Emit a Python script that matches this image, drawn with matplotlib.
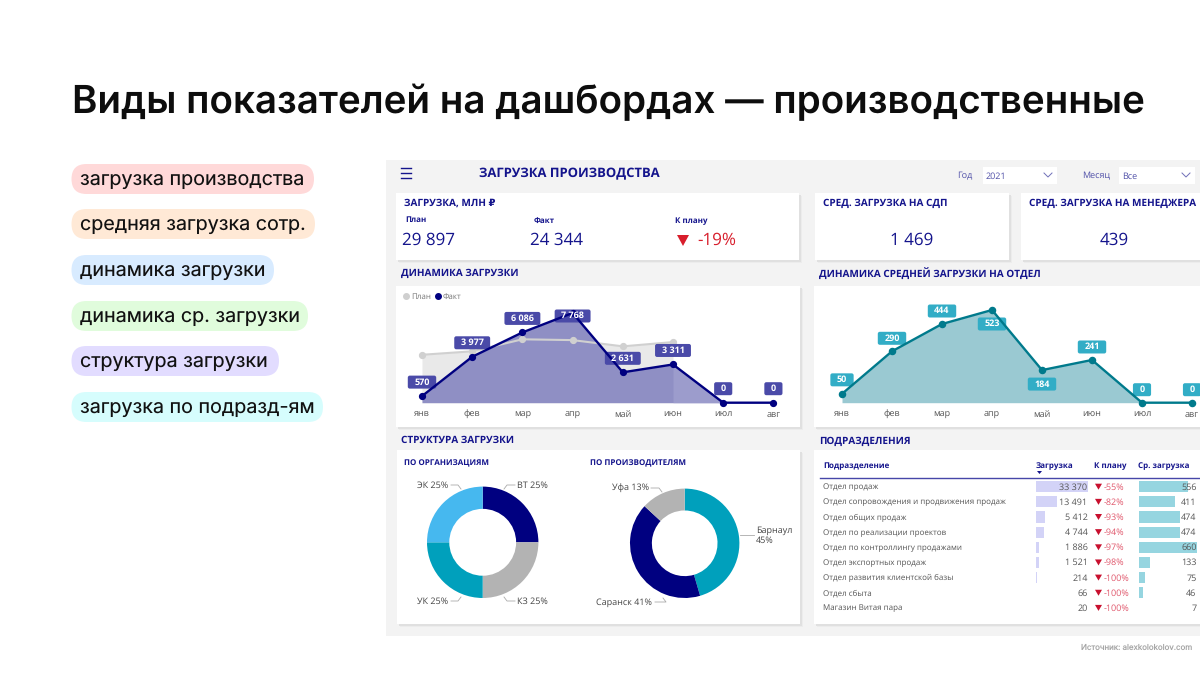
import matplotlib
matplotlib.use("Agg")
import matplotlib.pyplot as plt
from matplotlib.patches import Rectangle, FancyBboxPatch, Polygon

plt.rcParams['text.hinting'] = 'no_hinting'
plt.rcParams['text.hinting_factor'] = 1

W, H = 1200, 675

months = ['янв', 'фев', 'мар', 'апр', 'май', 'июн', 'июл', 'авг']
plan = [4150, 4450, 5490, 5420, 4880, 5250]
fact = [570, 3977, 6086, 7768, 2631, 3311, 0, 0]
fact_labels = ['570', '3 977', '6 086', '7 768', '2 631', '3 311', '0', '0']
avg_load = [50, 290, 444, 523, 184, 241, 0, 0]

org_names = ['ВТ 25%', 'КЗ 25%', 'УК 25%', 'ЭК 25%']
org_values = [25, 25, 25, 25]
org_colors = ['#000080', '#b3b3b3', '#00a0bc', '#46b8ef']
maker_names = ['Барнаул\n45%', 'Саранск 41%', 'Уфа 13%']
maker_values = [45, 41, 13]
maker_colors = ['#00a0bc', '#000080', '#b3b3b3']

departments = ['Отдел продаж', 'Отдел сопровождения и продвижения продаж',
               'Отдел общих продаж', 'Отдел по реализации проектов',
               'Отдел по контроллингу продажами', 'Отдел экспортных продаж',
               'Отдел развития клиентской базы', 'Отдел сбыта', 'Магазин Витая пара']
dep_load = [33370, 13491, 5412, 4744, 1886, 1521, 214, 66, 20]
dep_load_labels = ['33 370', '13 491', '5 412', '4 744', '1 886', '1 521', '214', '66', '20']
dep_plan = ['-55%', '-82%', '-93%', '-94%', '-97%', '-98%', '-100%', '-100%', '-100%']
dep_avg = [556, 411, 474, 474, 660, 133, 75, 46, 7]

pills = ['загрузка производства', 'средняя загрузка сотр.', 'динамика загрузки',
         'динамика ср. загрузки', 'структура загрузки', 'загрузка по подразд-ям']
pill_colors = ['#ffd9d9', '#ffe9d6', '#d8ebff', '#e0fcdc', '#e2dcff', '#d6fdfd']
pill_right = [314, 315, 274, 308, 279, 323]
pill_top = [164, 209, 255, 301, 346, 392]

NAVY = '#000080'
BLUE = '#14148c'
SANS = ['Open Sans', 'DejaVu Sans']
INTER = ['Inter', 'DejaVu Sans']


def px_axes(left, top, right, bottom, z=1):
    ax = fig.add_axes([left / W, 1 - bottom / H, (right - left) / W, (bottom - top) / H], zorder=z)
    ax.patch.set_alpha(0)
    ax.axis('off')
    return ax


def card(left, top, right, bottom):
    for off, col in [(3, '#ececec'), (2, '#e0e0e0')]:
        bg.add_patch(Rectangle((left + off, top + off), right - left, bottom - top, fc=col, ec='none'))
    bg.add_patch(Rectangle((left, top), right - left, bottom - top, fc='white', ec='none'))


def label(text, x, y, size=6.5, color='#444444', weight='normal', ha='left', family=SANS):
    top.text(x, y + 0.6, text, fontsize=size, color=color, fontweight=weight, ha=ha, va='center', family=family)


def area_chart(left, right, x0, step, scale):
    # one month = step px, baseline at 402.7 px
    ax = px_axes(left, 286, right, 425)
    ax.set_xlim((left - x0) / step, (right - x0) / step)
    ax.set_ylim(-(425 - 402.7) * scale, (402.7 - 286) * scale)
    return ax


def value_tag(ax, x, y, text, dy, color):
    # box goes under the line, the number stays on top of it
    txt = ax.annotate(text, (x, y), xytext=(0, dy), textcoords='offset pixels', ha='center', va='center',
                      fontsize=6.4, color='white', fontweight='bold', family=SANS, zorder=6)
    box = txt.get_window_extent(fig.canvas.get_renderer())
    cx, cy = ax.transData.transform((x, y))
    w = box.width + 13
    ax.add_patch(FancyBboxPatch((cx - w / 2 + 2, cy + dy - 4.5), w - 4, 9, boxstyle='round,pad=2,rounding_size=2',
                                fc=color, ec='none', transform=None, zorder=4))


def donut(ax, values, colors, names, pos, ctr, size):
    ax.pie(values, colors=colors, startangle=90, counterclock=False, radius=1,
           wedgeprops=dict(width=0.4, ec='none'), normalize=True)
    ax.set_xlim(-1, 1)
    ax.set_ylim(-1, 1)
    for name, (tx, ty, ha), line in zip(names, pos, ctr):
        label(name, tx, ty, size=size, color='#444444', ha=ha)
        top.plot(line[0], line[1], color='#aaaaaa', lw=0.6)


fig = plt.figure(figsize=(12, 6.75), dpi=100, facecolor='white')
bg = fig.add_axes([0, 0, 1, 1], zorder=0)
bg.set_xlim(0, W)
bg.set_ylim(H, 0)
bg.axis('off')
top = fig.add_axes([0, 0, 1, 1], zorder=5)
top.set_xlim(0, W)
top.set_ylim(H, 0)
top.axis('off')
top.patch.set_alpha(0)

# title and left column
label('Виды показателей на дашбордах — производственные', 72, 101.5, size=27.75, color='#0d0d0d',
      weight='semibold', family=INTER)
for name, col, right, y in zip(pills, pill_colors, pill_right, pill_top):
    bg.add_patch(FancyBboxPatch((71.5 + 15, y + 15), right - 71.5 - 30, 0, boxstyle='round,pad=15,rounding_size=15',
                                fc=col, ec='none'))
    label(name, 80.5, y + 16.5, size=14.2, color='#111111', family=INTER)
label('Источник: alexkolokolov.com', 1192, 647.5, size=5.7, color='#a6a6a6', ha='right', family=INTER)

# dashboard background
bg.add_patch(Rectangle((386, 160), W - 386, 476, fc='#f3f3f3', ec='none'))
card(396, 193, 799, 260)
card(815, 193, 1009, 260)
card(1021, 193, 1210, 260)
card(396, 286, 800, 427)
card(814, 286, 1210, 427)
card(397, 450, 800, 624)
card(814, 450, 1210, 624)

# header
for y in (168, 173, 178):
    top.plot([401, 411], [y, y], color=BLUE, lw=1)
label('ЗАГРУЗКА ПРОИЗВОДСТВА', 479, 173.5, size=9.65, color=BLUE, weight='bold')
label('Год', 957, 175.5, size=6.5, color='#5050a8')
label('Месяц', 1082, 175.5, size=6.5, color='#5050a8')
for left, right, txt in [(983, 1057, '2021'), (1119, 1195, 'Все')]:
    bg.add_patch(Rectangle((left, 167), right - left, 17, fc='white', ec='none'))
    label(txt, left + 3, 175.5, size=6.3, color='#5050a8')
    top.plot([right - 13, right - 9, right - 5], [173, 177, 173], color='#7070b8', lw=0.7)

# KPI cards
label('ЗАГРУЗКА, МЛН ₽', 404, 203, size=7.5, color=BLUE, weight='bold')
label('План', 405, 219, size=6, color=BLUE, weight='bold')
label('Факт', 534, 220, size=6, color=BLUE, weight='bold')
label('К плану', 675, 220, size=6, color=BLUE, weight='bold')
label('29 897', 402, 240, size=12.5, color=BLUE)
label('24 344', 530, 240, size=12.5, color=BLUE)
top.add_patch(Polygon([(677, 235), (689, 235), (683, 246)], fc='#d81e2c', ec='none'))
label('-19%', 697, 240, size=12.5, color='#d81e2c')
label('СРЕД. ЗАГРУЗКА НА СДП', 823, 203, size=7.5, color=BLUE, weight='bold')
label('1 469', 912, 240, size=12.5, color=BLUE, ha='center')
label('СРЕД. ЗАГРУЗКА НА МЕНЕДЖЕРА', 1029, 203, size=7.5, color=BLUE, weight='bold')
label('439', 1114, 240, size=12.5, color=BLUE, ha='center')

# section titles
label('ДИНАМИКА ЗАГРУЗКИ', 401, 273, size=7.5, color=BLUE, weight='bold')
label('ДИНАМИКА СРЕДНЕЙ ЗАГРУЗКИ НА ОТДЕЛ', 819, 273, size=7.5, color=BLUE, weight='bold')
label('СТРУКТУРА ЗАГРУЗКИ', 401, 440, size=7.5, color=BLUE, weight='bold')
label('ПОДРАЗДЕЛЕНИЯ', 819, 440.5, size=7.5, color=BLUE, weight='bold')

# left area chart
ax1 = area_chart(396, 800, 422, 50.2, 7768 / 89.7)
xs = list(range(len(months)))
ax1.fill_between(xs[:6], plan, color='#e9e9e9', lw=0)
ax1.plot(xs[:6], plan, color='#d0d0d0', lw=1.5, marker='o', ms=4.2)
ax1.fill_between(xs, fact, color='#8f8fc4', lw=0)
ax1.fill_between(xs[5:7], fact[5:7], color='#9c9ccc', lw=0)
ax1.plot(xs, fact, color=NAVY, lw=1.7, marker='o', ms=4.2, zorder=5, clip_on=False)
for i, (v, t) in enumerate(zip(fact, fact_labels)):
    value_tag(ax1, i, v, t, -3 if i == 3 else 14, '#4a4aa8')
for i, m in enumerate(months):
    label(m, 422 + i * 50.2, 413.5, size=6.5, color='#555555', ha='center')
top.plot([406], [296], marker='o', ms=4, color='#cfcfcf')
label('План', 411, 296, size=6, color='#777777')
top.plot([438], [296], marker='o', ms=4, color=NAVY)
label('Факт', 443, 296, size=6, color='#777777')

# right area chart
ax2 = area_chart(814, 1200, 842, 50, 523 / 92.7)
ax2.fill_between(xs, avg_load, color='#9ac9d2', lw=0)
ax2.plot(xs, avg_load, color='#007a8c', lw=1.7, marker='o', ms=4.4, zorder=5, clip_on=False)
offs = [14, 13, 13, -14, -14, 13, 13, 13]
for i, v in enumerate(avg_load):
    value_tag(ax2, i, v, str(v), offs[i], '#32adc6')
for i, m in enumerate(months):
    label(m, 842 + i * 50, 413.5, size=6.5, color='#555555', ha='center')

# donuts
label('ПО ОРГАНИЗАЦИЯМ', 404, 463, size=6.1, color=BLUE, weight='bold')
label('ПО ПРОИЗВОДИТЕЛЯМ', 590, 463, size=6.1, color=BLUE, weight='bold')
d1 = px_axes(482.7 - 55.7, 542.3 - 55.7, 482.7 + 55.7, 542.3 + 55.7)
donut(d1, org_values, org_colors, org_names,
      [(517, 485, 'left'), (517, 601, 'left'), (448, 601, 'right'), (448, 485, 'right')],
      [([504, 507, 515], [489, 485, 485]), ([504, 507, 515], [597, 601, 601]),
       ([461, 458, 451], [597, 601, 601]), ([461, 458, 451], [489, 485, 485])], 6.3)
d2 = px_axes(684.7 - 54.7, 543.3 - 54.7, 684.7 + 54.7, 543.3 + 54.7)
donut(d2, maker_values, maker_colors, maker_names,
      [(756, 535, 'left'), (652, 602, 'right'), (649, 488, 'right')],
      [([740, 754], [535, 535]), ([663, 666, 655], [598, 602, 602]), ([662, 659, 651], [492, 488, 488])], 6.15)

# table
label('Подразделение', 823, 465, size=6.1, color=BLUE, weight='bold')
label('Загрузка', 1036, 465, size=6.1, color=BLUE, weight='bold')
label('К плану', 1094, 465, size=6.1, color=BLUE, weight='bold')
label('Ср. загрузка', 1138, 465, size=6.1, color=BLUE, weight='bold')
top.add_patch(Polygon([(1037, 471), (1042, 471), (1039.5, 474)], fc=BLUE, ec='none'))
top.plot([820, 1200], [477.5, 477.5], color='#4646a8', lw=1)

row_top = 486.7 - 7.575
row_h = 15.15
n = len(departments)
t1 = px_axes(1036.3, row_top, 1088, row_top + n * row_h)
t1.barh(range(n), dep_load, height=0.74, color='#d3d3f7')
t1.set_xlim(0, 33370)
t1.set_ylim(n - 0.5, -0.5)
t2 = px_axes(1138.7, row_top, 1196.7, row_top + n * row_h)
t2.barh(range(n), dep_avg, height=0.74, color='#96d5e0')
t2.set_xlim(0, 660)
t2.set_ylim(n - 0.5, -0.5)
for i in range(n):
    y = 486.7 + i * row_h
    label(departments[i], 823, y, size=6.0, color='#555555')
    label(dep_load_labels[i], 1087.5, y, size=6.5, color='#555555', ha='right')
    top.add_patch(Polygon([(1095, y - 3), (1102, y - 3), (1098.5, y + 3)], fc='#c8102e', ec='none'))
    label(dep_plan[i], 1104, y, size=6.5, color='#e0556a')
    label(str(dep_avg[i]), 1196.5, y, size=6.5, color='#555555', ha='right')

fig.savefig('out.png', dpi=100)
